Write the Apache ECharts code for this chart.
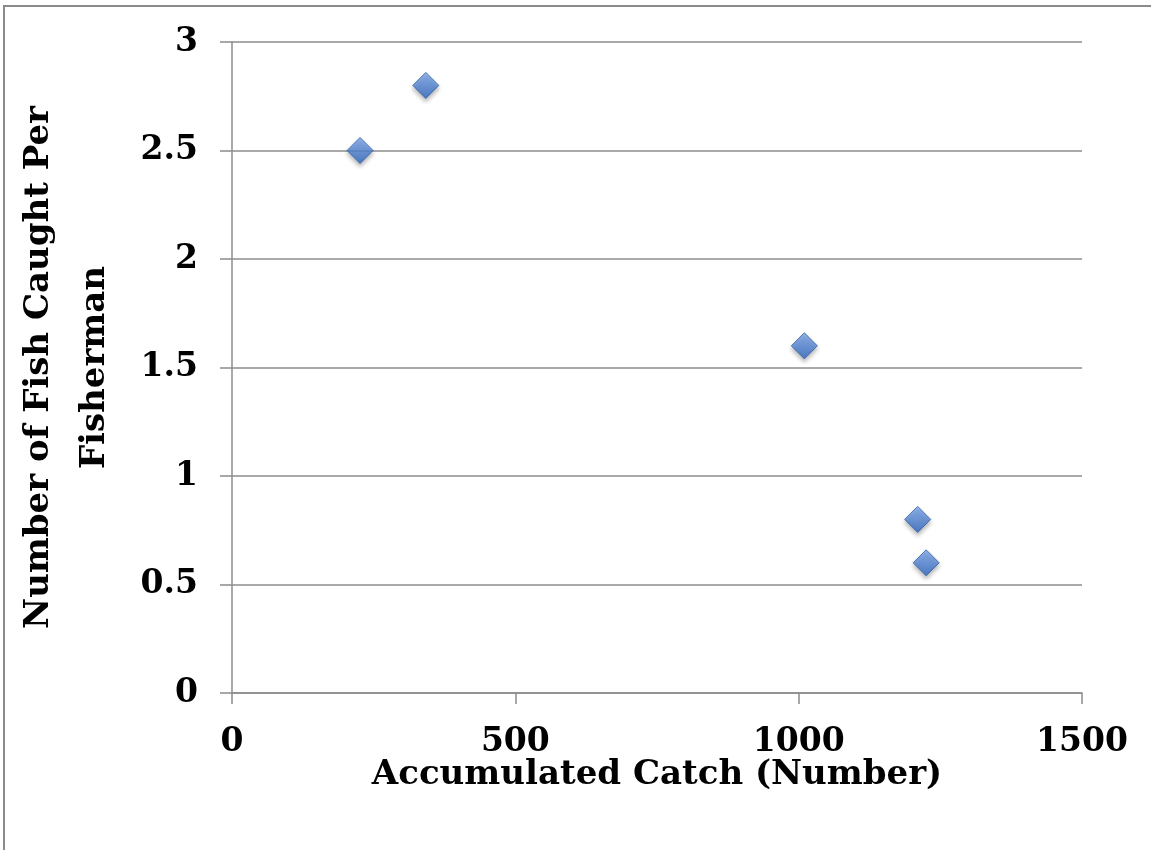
<!DOCTYPE html>
<html>
<head>
<meta charset="utf-8">
<script src="https://cdn.jsdelivr.net/npm/echarts@6/dist/echarts.min.js"></script>
<style>
html,body{margin:0;padding:0;background:#fff;}
#chart{width:1151px;height:850px;}
</style>
</head>
<body>
<div id="chart"></div>
<script>
const accumulatedCatch = [226, 342, 1010, 1210, 1225];
const fishPerFisherman = [2.5, 2.8, 1.6, 0.8, 0.6];
const xTitle = 'Accumulated Catch (Number)';
const yTitle = 'Number of Fish Caught Per\nFisherman';

const points = accumulatedCatch.map((x, i) => [x, fishPerFisherman[i]]);
const font = '"DejaVu Serif", serif';

const chart = echarts.init(document.getElementById('chart'));
chart.setOption({
  backgroundColor: '#ffffff',
  animation: false,
  graphic: [{
    type: 'rect',
    shape: {x: 4, y: 6, width: 1160, height: 860},
    style: {fill: 'none', stroke: '#8a8a8a', lineWidth: 2},
    silent: true
  }],
  grid: {left: 232, right: 69, top: 42, bottom: 157, containLabel: false, outerBoundsMode: 'none'},
  xAxis: {
    type: 'value', min: 0, max: 1500, interval: 500,
    name: xTitle, nameLocation: 'middle', nameGap: 65, nameMoveOverlap: false,
    nameTextStyle: {fontFamily: font, fontWeight: 'bold', fontSize: 34, color: '#000', verticalAlign: 'top'},
    axisLine: {show: true, lineStyle: {color: '#8c8c8c', width: 1.5}},
    axisTick: {show: true, length: 11, lineStyle: {color: '#8c8c8c', width: 1.5}},
    axisLabel: {fontFamily: font, fontWeight: 'bold', fontSize: 33, color: '#000', margin: 33,
      formatter: v => String(v)},
    splitLine: {show: false}
  },
  yAxis: {
    type: 'value', min: 0, max: 3, interval: 0.5,
    name: yTitle, nameLocation: 'middle', nameGap: 109, nameRotate: 90, nameMoveOverlap: false,
    nameTextStyle: {fontFamily: font, fontWeight: 'bold', fontSize: 34, color: '#000', lineHeight: 56},
    axisLine: {show: true, lineStyle: {color: '#8c8c8c', width: 1.5}},
    axisTick: {show: true, length: 12, lineStyle: {color: '#8c8c8c', width: 1.5}},
    axisLabel: {fontFamily: font, fontWeight: 'bold', fontSize: 33, color: '#000', margin: 34,
      formatter: v => String(v)},
    splitLine: {show: true, lineStyle: {color: '#8c8c8c', width: 1.5}}
  },
  series: [{
    type: 'scatter',
    data: points,
    symbol: 'diamond',
    symbolSize: [26, 26],
    itemStyle: {
      color: new echarts.graphic.LinearGradient(0, 0, 0, 1, [
        {offset: 0, color: '#7eaaf0'},
        {offset: 1, color: '#2f66c0'}
      ]),
      borderColor: '#2f5fa8', borderWidth: 1,
      shadowBlur: 4, shadowOffsetY: 3, shadowColor: 'rgba(0,0,0,0.35)'
    }
  }]
});
</script>
</body>
</html>
